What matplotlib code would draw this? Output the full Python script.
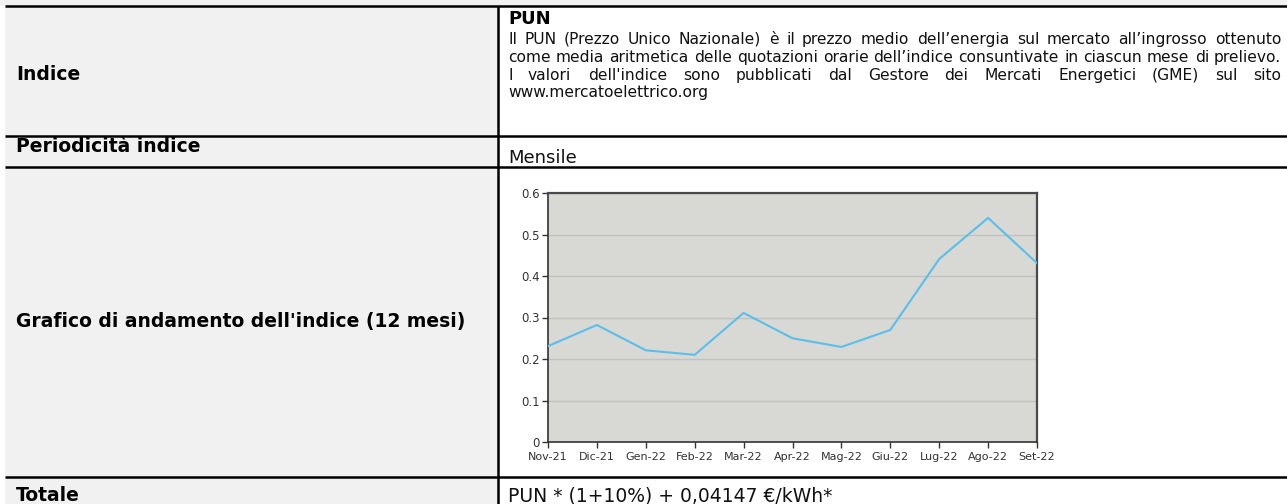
import matplotlib
matplotlib.use('Agg')
import matplotlib.pyplot as plt

# ---------------- data ----------------
months = ["Nov-21", "Dic-21", "Gen-22", "Feb-22", "Mar-22", "Apr-22",
          "Mag-22", "Giu-22", "Lug-22", "Ago-22", "Set-22"]
pun_values = [0.231, 0.282, 0.221, 0.210, 0.311, 0.250,
              0.229, 0.270, 0.441, 0.540, 0.431]
y_ticks = [0, 0.1, 0.2, 0.3, 0.4, 0.5, 0.6]
y_tick_labels = ["0", "0.1", "0.2", "0.3", "0.4", "0.5", "0.6"]

row_labels = ["Indice", "Periodicità indice",
              "Grafico di andamento dell'indice (12 mesi)", "Totale"]
index_title = "PUN"
index_lines = [
    "Il PUN (Prezzo Unico Nazionale) è il prezzo medio dell’energia sul mercato all’ingrosso ottenuto",
    "come media aritmetica delle quotazioni orarie dell’indice consuntivate in ciascun mese di prelievo.",
    "I valori dell'indice sono pubblicati dal Gestore dei Mercati Energetici (GME) sul sito",
    "www.mercatoelettrico.org",
]
periodicity = "Mensile"
total_text = "PUN * (1+10%) + 0,04147 €/kWh*"

# ---------------- figure ----------------
W, H = 1287, 504
fig = plt.figure(figsize=(W / 100, H / 100), dpi=100)
fig.patch.set_facecolor('white')
bg = fig.add_axes([0, 0, 1, 1])
bg.set_xlim(0, W)
bg.set_ylim(H, 0)
bg.axis('off')

GRAY = '#f1f1f1'
bg.add_patch(plt.Rectangle((0, 0), W, 6, color=GRAY, lw=0))
bg.add_patch(plt.Rectangle((5, 6), 493, H - 6, color=GRAY, lw=0))

LW = 1.8
for y in [6, 136, 167, 477]:
    bg.plot([5, W], [y, y], color='black', lw=LW, solid_capstyle='butt')
bg.plot([498, 498], [6, H], color='black', lw=LW, solid_capstyle='butt')

renderer = fig.canvas.get_renderer()


def width_of(s, **kw):
    t = bg.text(0, 0, s, **kw)
    w = t.get_window_extent(renderer).width
    t.remove()
    return w


FAM = 'DejaVu Sans'
LAB_FS = 13.5
TXT = '#111111'
# left column labels
bg.text(16, 80, row_labels[0], fontsize=LAB_FS, fontweight='bold', family=FAM, va='baseline')
bg.text(16, 152, row_labels[1], fontsize=LAB_FS, fontweight='bold', family=FAM, va='baseline')
bg.text(16, 327, row_labels[2], fontsize=LAB_FS, fontweight='bold', family=FAM, va='baseline')
bg.text(16, 501, row_labels[3], fontsize=LAB_FS, fontweight='bold', family=FAM, va='baseline')

# right column: index description
bg.text(508, 24, index_title, fontsize=13, fontweight='bold', family=FAM, va='baseline')

X0, X1 = 508, 1281
nat = [width_of(l, fontsize=10, family=FAM) for l in index_lines[:2]]
PFS = 10 * 770 / max(nat)
baselines = [44, 62, 80, 97]
for i, (line, yb) in enumerate(zip(index_lines, baselines)):
    if i == len(index_lines) - 1:
        bg.text(X0, yb, line, fontsize=PFS, family=FAM, va='baseline', color=TXT)
        continue
    words = line.split(' ')
    ws = [width_of(w, fontsize=PFS, family=FAM) for w in words]
    gap = (X1 - X0 - sum(ws)) / (len(words) - 1)
    x = X0
    for w, wd in zip(words, ws):
        # draw each word on the same baseline
        bg.text(round(x), yb, w, fontsize=PFS, family=FAM, va='baseline', color=TXT)
        x += wd + gap

bg.text(508, 163, periodicity, fontsize=13, family=FAM, va='baseline', color=TXT)
bg.text(508, 502, total_text, fontsize=13.5, family=FAM, va='baseline', color=TXT)

# ---------------- chart ----------------
L, R, T, B = 548, 1037, 193, 442
ax = fig.add_axes([L / W, 1 - B / H, (R - L) / W, (B - T) / H])
ax.set_facecolor('#d8d8d4')
x = list(range(len(months)))
ax.plot(x, pun_values, color='#5bbfea', lw=1.5, zorder=3)
ax.set_xlim(0, len(months) - 1)
ax.set_ylim(0, 0.6)
ax.set_yticks(y_ticks)
ax.set_yticklabels(y_tick_labels)
ax.set_xticks(x)
ax.set_xticklabels(months)
ax.yaxis.grid(True, color='#c2c2be', lw=1.0)
ax.set_axisbelow(True)
for s in ['top', 'right']:
    ax.spines[s].set_color('#4a4a4a')
    ax.spines[s].set_linewidth(1.6)
for s in ['left', 'bottom']:
    ax.spines[s].set_color('#333333')
    ax.spines[s].set_linewidth(1.2)
ax.tick_params(axis='both', direction='out', length=4, width=1, color='#333333',
               labelcolor='#333333')
ax.tick_params(axis='y', pad=2, labelsize=8.5)
ax.tick_params(axis='x', pad=3, labelsize=8)

fig.savefig('out.png', dpi=100, facecolor='white')
